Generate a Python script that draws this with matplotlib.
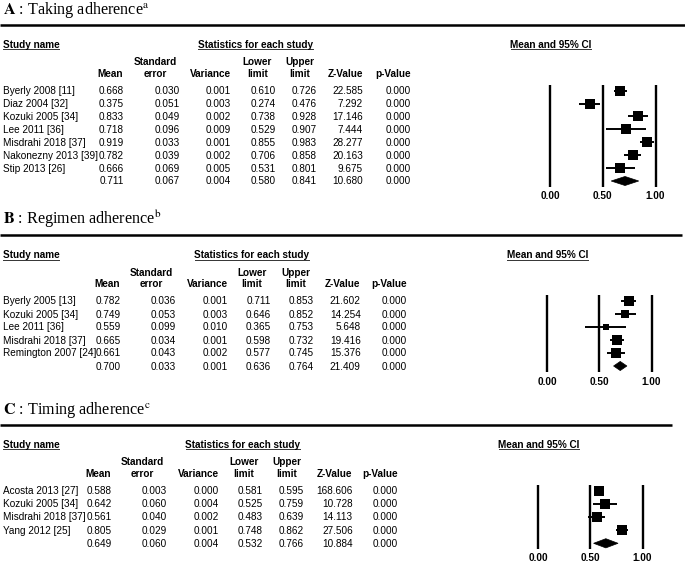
import numpy as np
import matplotlib.pyplot as plt
from matplotlib.patches import Polygon

plt.rcParams['font.family'] = ['Liberation Sans', 'DejaVu Sans']
plt.rcParams['mathtext.fontset'] = 'stix'

# ── Dados: A  Taking adherence ───────────────────────────────────────────────
a_names = ['Byerly 2008 [11]', 'Diaz 2004 [32]', 'Kozuki 2005 [34]', 'Lee 2011 [36]',
           'Misdrahi 2018 [37]', 'Nakonezny 2013 [39]', 'Stip 2013 [26]', '']
a_mean  = [0.668, 0.375, 0.833, 0.718, 0.919, 0.782, 0.666, 0.711]
a_se    = [0.030, 0.051, 0.049, 0.096, 0.033, 0.039, 0.069, 0.067]
a_var   = [0.001, 0.003, 0.002, 0.009, 0.001, 0.002, 0.005, 0.004]
a_lower = [0.610, 0.274, 0.738, 0.529, 0.855, 0.706, 0.531, 0.580]
a_upper = [0.726, 0.476, 0.928, 0.907, 0.983, 0.858, 0.801, 0.841]
a_z     = [22.585, 7.292, 17.146, 7.444, 28.277, 20.163, 9.675, 10.680]
a_p     = [0.000, 0.000, 0.000, 0.000, 0.000, 0.000, 0.000, 0.000]

# ── Dados: B  Regimen adherence ──────────────────────────────────────────────
b_names = ['Byerly 2005 [13]', 'Kozuki 2005 [34]', 'Lee 2011 [36]',
           'Misdrahi 2018 [37]', 'Remington 2007 [24]', '']
b_mean  = [0.782, 0.749, 0.559, 0.665, 0.661, 0.700]
b_se    = [0.036, 0.053, 0.099, 0.034, 0.043, 0.033]
b_var   = [0.001, 0.003, 0.010, 0.001, 0.002, 0.001]
b_lower = [0.711, 0.646, 0.365, 0.598, 0.577, 0.636]
b_upper = [0.853, 0.852, 0.753, 0.732, 0.745, 0.764]
b_z     = [21.602, 14.254, 5.648, 19.416, 15.376, 21.409]
b_p     = [0.000, 0.000, 0.000, 0.000, 0.000, 0.000]

# ── Dados: C  Timing adherence ───────────────────────────────────────────────
c_names = ['Acosta 2013 [27]', 'Kozuki 2005 [34]', 'Misdrahi 2018 [37]', 'Yang 2012 [25]', '']
c_mean  = [0.588, 0.642, 0.561, 0.805, 0.649]
c_se    = [0.003, 0.060, 0.040, 0.029, 0.060]
c_var   = [0.000, 0.004, 0.002, 0.001, 0.004]
c_lower = [0.581, 0.525, 0.483, 0.748, 0.532]
c_upper = [0.595, 0.759, 0.639, 0.862, 0.766]
c_z     = [168.606, 10.728, 14.113, 27.506, 10.884]
c_p     = [0.000, 0.000, 0.000, 0.000, 0.000]

panel_letters = ['A', 'B', 'C']
panel_titles  = ['Taking adherence', 'Regimen adherence', 'Timing adherence']
panel_notes   = ['a', 'b', 'c']

col_headers = [('', 'Mean'), ('Standard', 'error'), ('', 'Variance'),
               ('Lower', 'limit'), ('Upper', 'limit'), ('', 'Z-Value'), ('', 'p-Value')]
tick_vals   = [0.0, 0.5, 1.0]
tick_labels = ['0.00', '0.50', '1.00']

# ── Layout (pixels, origem em cima à esquerda) ───────────────────────────────
W, H = 685, 563
layout = [
    dict(row0=90.7, dy=12.9, cols=[124, 180, 231, 276, 317, 363, 410.5],
         f0=550, f1=655.5, stats_cx=255.5, ci_cx=551, rule_r=685, pad=2.9),
    dict(row0=301.0, dy=13.0, cols=[120.5, 175.7, 227.7, 270.7, 313.3, 360.7, 406.7],
         f0=547.3, f1=651.5, stats_cx=252, ci_cx=547.5, rule_r=682, pad=3.4),
    dict(row0=490.7, dy=13.15, cols=[111.7, 166.7, 219, 262.7, 304, 352.7, 398.3],
         f0=538, f1=642.5, stats_cx=243, ci_cx=539, rule_r=672, pad=2.6),
]
head_off = [-1, -3, 0, -4, -3, 0, 0]

panels = [
    (a_names, a_mean, a_se, a_var, a_lower, a_upper, a_z, a_p),
    (b_names, b_mean, b_se, b_var, b_lower, b_upper, b_z, b_p),
    (c_names, c_mean, c_se, c_var, c_lower, c_upper, c_z, c_p),
]


def re_weights(se, se_sum):
    # pesos de efeitos aleatórios: tau² tal que sum 1/(se²+tau²) = 1/se_sum²
    s2 = np.asarray(se) ** 2
    target = 1 / se_sum ** 2
    lo, hi = 0.0, 1.0
    for _ in range(80):
        t = (lo + hi) / 2
        if np.sum(1 / (s2 + t)) > target:
            lo = t
        else:
            hi = t
    return 1 / (s2 + t)


fig = plt.figure(figsize=(W / 100, H / 100), dpi=100)
bg = fig.add_axes([0, 0, 1, 1])
bg.set_xlim(0, W)
bg.set_ylim(H, 0)
bg.axis('off')

FS = 7.2
underline_items = []

for k, (data, lay) in enumerate(zip(panels, layout)):
    names, mean, se, var, lower, upper, z, p = data
    n = len(names)
    r0, dy = lay['row0'], lay['dy']
    cols = lay['cols']

    # título + régua
    bg.text(3, r0 - 77, rf'$\mathbf{{{panel_letters[k]}}}$ : {panel_titles[k]}$^{{\mathrm{{{panel_notes[k]}}}}}$',
            family=['Liberation Serif', 'DejaVu Serif'], fontsize=11.6, va='baseline', ha='left')
    bg.plot([0, lay['rule_r']], [r0 - 66, r0 - 66], color='black', lw=1.8,
            solid_capstyle='butt')

    # cabeçalhos sublinhados
    base = r0 - 46.5 + 3.5
    t1 = bg.text(3, base, 'Study name', fontsize=FS, fontweight='bold', va='baseline', ha='left')
    t2 = bg.text(lay['stats_cx'], base, 'Statistics for each study', fontsize=FS,
                 fontweight='bold', va='baseline', ha='center')
    t3 = bg.text(lay['ci_cx'], base, 'Mean and 95% CI', fontsize=FS,
                 fontweight='bold', va='baseline', ha='center')
    underline_items += [(t1, base), (t2, base), (t3, base)]

    for (top, bot), xr, off in zip(col_headers, cols, head_off):
        if top:
            t = bg.text(xr + off, r0 - 29 + 3.5, top, fontsize=FS, fontweight='bold',
                        va='baseline', ha='right')
            # segunda linha centrada sob a primeira
            underline_items.append((t, None, bot, r0 - 17.5 + 3.5))
        else:
            bg.text(xr + off, r0 - 17.5 + 3.5, bot, fontsize=FS, fontweight='bold',
                    va='baseline', ha='right')

    # linhas da tabela
    for i in range(n):
        yb = r0 + i * dy + 3.5
        bg.text(3, yb, names[i], fontsize=FS, va='baseline', ha='left')
        vals = [mean[i], se[i], var[i], lower[i], upper[i], z[i], p[i]]
        for v, xr in zip(vals, cols):
            bg.text(xr, yb, f'{v:.3f}', fontsize=FS, va='baseline', ha='right')

    # ── forest plot ──
    s = lay['f1'] - lay['f0']
    left = lay['f0'] - 0.2 * s
    top = r0 - 0.5 * dy
    ax = fig.add_axes([left / W, 1 - (top + n * dy) / H, 1.4 * s / W, n * dy / H])
    ax.set_xlim(-0.2, 1.2)
    ax.set_ylim(n - 0.5, -0.5)
    for sp in ax.spines.values():
        sp.set_visible(False)
    ax.set_yticks([])
    ax.set_xticks(tick_vals)
    ax.set_xticklabels(tick_labels, fontsize=FS, fontweight='bold')
    ax.tick_params(axis='x', length=0, pad=lay['pad'])
    ax.patch.set_alpha(0)

    ax.vlines(tick_vals, -0.45, n - 1 + 0.45, color='black', lw=1.7)

    m = n - 1
    w = re_weights(se[:m], se[m])
    sizes = 7.6 * np.sqrt(w / w.max())
    ax.hlines(range(m), lower[:m], upper[:m], color='black', lw=1.4)
    for i in range(m):
        ax.plot(mean[i], i, marker='s', ms=sizes[i], color='black', mew=0)

    h = 0.35
    ax.add_patch(Polygon([[lower[m], m], [mean[m], m - h], [upper[m], m], [mean[m], m + h]],
                         closed=True, facecolor='black', edgecolor='black', lw=0.5))

# sublinhados e segundas linhas dos cabeçalhos
fig.canvas.draw()
inv = bg.transData.inverted()
for item in underline_items:
    if len(item) == 2:
        t, yb = item
        bb = t.get_window_extent()
        (x0, _), (x1, _) = inv.transform([[bb.x0, bb.y0], [bb.x1, bb.y1]])
        bg.plot([x0 + 0.5, x1 - 0.5], [yb + 1.6, yb + 1.6], color='#333333', lw=0.7)
    else:
        t, _, txt, yb = item
        bb = t.get_window_extent()
        (x0, _), (x1, _) = inv.transform([[bb.x0, bb.y0], [bb.x1, bb.y1]])
        bg.text((x0 + x1) / 2, yb, txt, fontsize=FS, fontweight='bold',
                va='baseline', ha='center')

fig.savefig('out.png', dpi=100)
